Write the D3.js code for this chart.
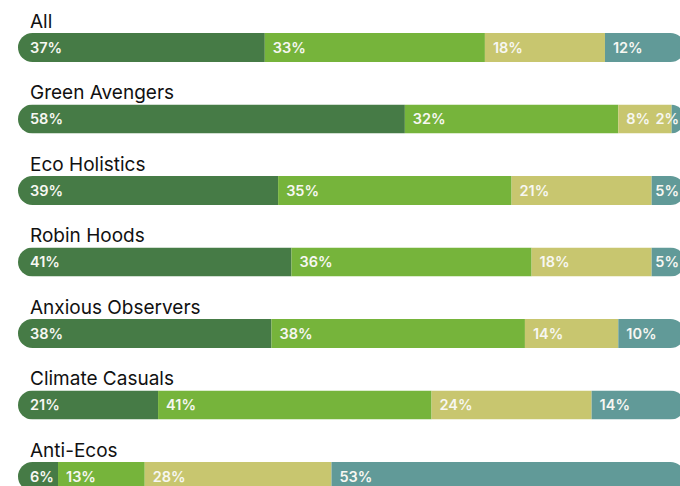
<!DOCTYPE html>
<html>
<head>
<meta charset="utf-8">
<script src="https://cdn.jsdelivr.net/npm/d3@7"></script>
<style>
  html, body { margin: 0; padding: 0; background: #ffffff; }
  svg { display: block; }
</style>
</head>
<body>
<svg id="chart" width="680" height="486"></svg>
<script>
// Segment groups of each stacked bar
const segments = ["seg1", "seg2", "seg3", "seg4"];
const segmentColors = ["#467b46", "#76b43b", "#c8c66f", "#619a98"];

// One row per audience group
const groups = ["All", "Green Avengers", "Eco Holistics", "Robin Hoods", "Anxious Observers", "Climate Casuals", "Anti-Ecos"];
const seg1 = [37, 58, 39, 41, 38, 21, 6];
const seg2 = [33, 32, 35, 36, 38, 41, 13];
const seg3 = [18, 8, 21, 18, 14, 24, 28];
const seg4 = [12, 2, 5, 5, 10, 14, 53];

const W = 680, H = 486;
const left = 18, right = 685;
const barH = 29;
const firstBarTop = 33;
const rowStep = 71.5;

const rows = groups.map((g, i) => ({
  group: g, seg1: seg1[i], seg2: seg2[i], seg3: seg3[i], seg4: seg4[i]
}));

const stacked = d3.stack().keys(segments)(rows);

const x = d3.scaleLinear().domain([0, 100]).range([left, right]);
const y = d3.scaleBand().domain(groups)
  .range([firstBarTop, firstBarTop + rowStep * groups.length])
  .paddingInner(0).paddingOuter(0);

const color = d3.scaleOrdinal().domain(segments).range(segmentColors);

const svg = d3.select("#chart");

// Each bar is clipped to a pill shape so the ends are rounded
const defs = svg.append("defs");
groups.forEach((g, i) => {
  defs.append("clipPath").attr("id", "pill" + i)
    .append("rect")
    .attr("x", x(0))
    .attr("y", y(g))
    .attr("width", x(100) - x(0))
    .attr("height", barH)
    .attr("rx", barH / 2)
    .attr("ry", barH / 2);
});

// Group titles
svg.append("g").selectAll("text")
  .data(groups)
  .join("text")
  .attr("x", x(0) + 12)
  .attr("y", d => y(d) - 5.5)
  .attr("font-family", "Inter, 'Noto Sans', sans-serif")
  .attr("font-size", 19)
  .attr("font-weight", 400)
  .attr("fill", "#111111")
  .text(d => d);

// Bars
const barGroups = svg.append("g").selectAll("g")
  .data(groups)
  .join("g")
  .attr("clip-path", (d, i) => `url(#pill${i})`);

barGroups.each(function (g, i) {
  const gSel = d3.select(this);
  stacked.forEach(layer => {
    const d = layer[i];
    gSel.append("rect")
      .attr("x", x(d[0]))
      .attr("y", y(g))
      .attr("width", x(d[1]) - x(d[0]))
      .attr("height", barH)
      .attr("fill", color(layer.key));
  });
});

// Value labels inside each segment, kept inside the visible width
const labelLayer = svg.append("g");
stacked.forEach((layer, li) => {
  layer.forEach((d, i) => {
    const g = groups[i];
    const value = d[1] - d[0];
    const pad = li === 0 ? 12 : 8;
    const t = labelLayer.append("text")
      .attr("y", y(g) + barH / 2)
      .attr("dy", "0.36em")
      .attr("font-family", "Inter, 'Noto Sans', sans-serif")
      .attr("font-size", 14.5)
      .attr("font-weight", 600)
      .attr("fill", "#f7f7f2")
      .text(value + "%");
    const tw = t.node().getComputedTextLength();
    t.attr("x", Math.min(x(d[0]) + pad, W - tw - 1));
  });
});
</script>
</body>
</html>
